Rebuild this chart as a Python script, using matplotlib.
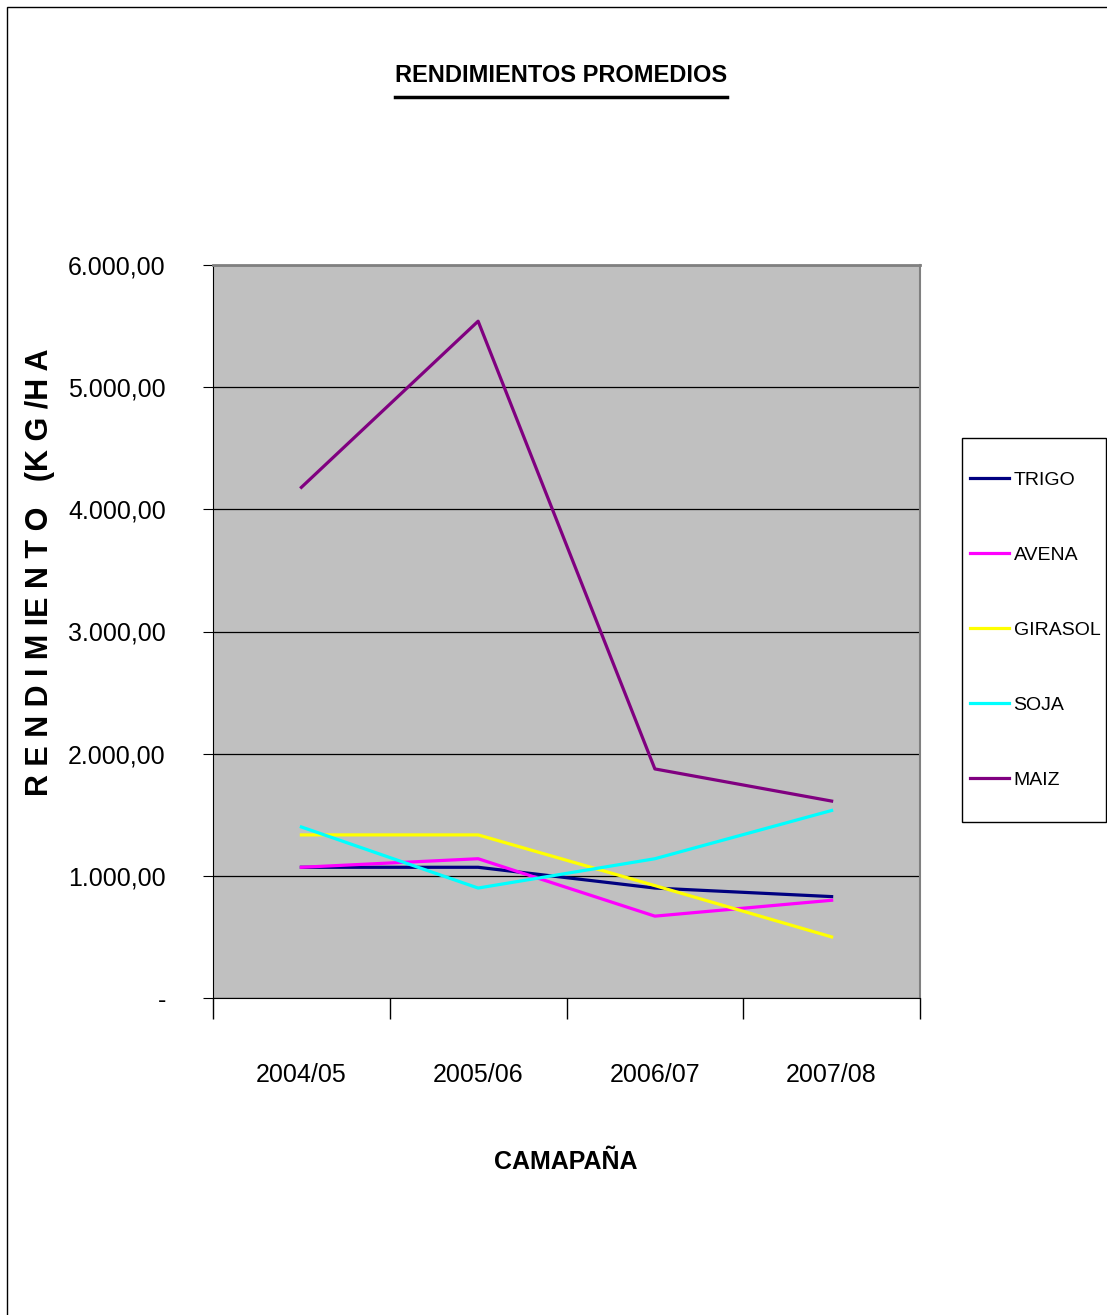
import matplotlib.pyplot as plt
from matplotlib.lines import Line2D
from matplotlib.patches import Rectangle
from matplotlib.ticker import FixedLocator, FuncFormatter

# Datos (kg/ha)
campanas = ['2004/05', '2005/06', '2006/07', '2007/08']
trigo = [1070, 1070, 900, 830]
avena = [1070, 1140, 670, 800]
girasol = [1335, 1335, 920, 500]
soja = [1400, 900, 1140, 1535]
maiz = [4180, 5540, 1875, 1612]

series = [('TRIGO', trigo, '#000080'),
          ('AVENA', avena, '#FF00FF'),
          ('GIRASOL', girasol, '#FFFF00'),
          ('SOJA', soja, '#00FFFF'),
          ('MAIZ', maiz, '#800080')]

plt.rcParams['font.family'] = ['Liberation Sans', 'DejaVu Sans']

W, H = 1107, 1315
fig = plt.figure(figsize=(W / 100, H / 100), dpi=100)
ax = fig.add_axes([213 / W, 1 - 998 / H, 707 / W, 733 / H])
ax.set_facecolor('#C0C0C0')

x = range(len(campanas))
for nombre, valores, color in series:
    ax.plot(x, valores, color=color, linewidth=2.3, label=nombre)

ax.set_xlim(-0.5, len(campanas) - 0.5)
ax.set_ylim(0, 6000)

# eje de categorías: marcas entre categorías, etiquetas en el centro
ax.xaxis.set_major_locator(FixedLocator([i - 0.5 for i in range(len(campanas) + 1)]))
ax.xaxis.set_major_formatter(FuncFormatter(lambda v, p: ''))
ax.set_xticks(list(x), campanas, minor=True)
ax.tick_params(axis='x', which='major', length=15, direction='out', width=1)
ax.tick_params(axis='x', which='minor', length=0, pad=47, labelsize=18)

ax.set_yticks(range(0, 6001, 1000))
ax.yaxis.set_major_formatter(FuncFormatter(
    lambda v, p: '-' if v == 0 else f'{v:,.2f}'.replace(',', 'X').replace('.', ',').replace('X', '.')))
ax.tick_params(axis='y', length=7, direction='out', pad=27, labelsize=18)

ax.grid(axis='y', color='black', linewidth=0.9)
ax.set_axisbelow(True)
ax.spines['top'].set_color('#808080')
ax.spines['right'].set_color('#808080')
ax.spines['top'].set_linewidth(2)
ax.spines['right'].set_linewidth(1.5)

fig.text(40 / W, 1 - 572 / H, 'R E N D I M IE N T O   (K G /H A', rotation=90,
         ha='center', va='center', fontsize=22, fontweight='bold')
fig.text(566 / W, 1 - 1162 / H, 'CAMAPAÑA', ha='center', va='center',
         fontsize=18, fontweight='bold')
titulo = fig.text(561 / W, 1 - 75 / H, 'RENDIMIENTOS PROMEDIOS', ha='center', va='center',
                  fontsize=17, fontweight='bold')

# subrayado del título, del ancho del texto
fig.canvas.draw()
bb = titulo.get_window_extent().transformed(fig.transFigure.inverted())
fig.add_artist(Line2D([bb.x0, bb.x1], [1 - 97 / H, 1 - 97 / H], color='black', linewidth=2.5))

leg = fig.legend(loc='center left', bbox_to_anchor=(962 / W, 1 - 630 / H),
                 frameon=False, fontsize=14, handlelength=2.0, handletextpad=0.25,
                 labelspacing=2.95, borderpad=0.4, borderaxespad=0)
fig.add_artist(Rectangle((962 / W, 1 - 822 / H), 144 / W, 384 / H, transform=fig.transFigure,
                         fill=False, edgecolor='black', linewidth=1))

# marco exterior
fig.add_artist(Rectangle((7 / W, -0.05), 1.2, 1.05 - 7 / H, transform=fig.transFigure,
                         fill=False, edgecolor='black', linewidth=1))

plt.savefig('out.png', dpi=100)
plt.close()
